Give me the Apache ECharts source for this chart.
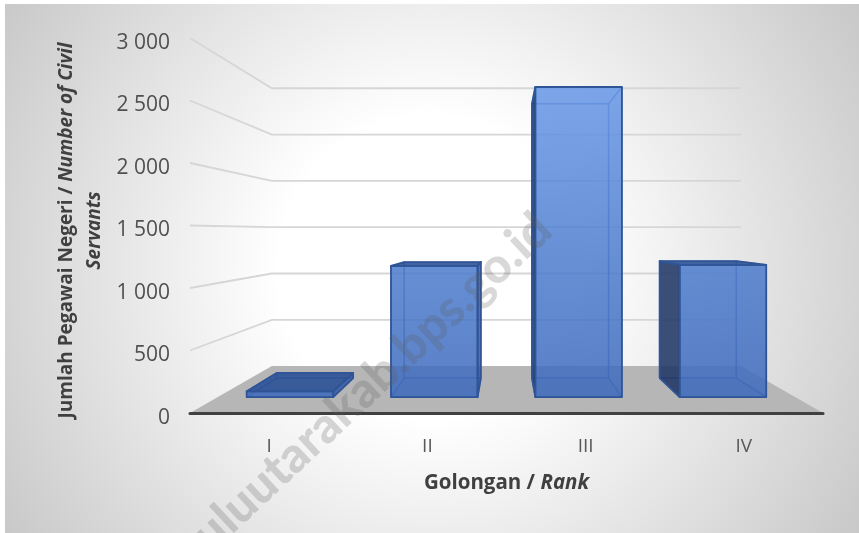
<!DOCTYPE html>
<html lang="en">
<head>
    <meta charset="UTF-8">
    <title>Jumlah Pegawai Negeri</title>
    <script type="text/javascript" src="https://cdn.jsdelivr.net/npm/echarts@6/dist/echarts.min.js"></script>
    <style>
        html, body { margin: 0; padding: 0; background: #fff; }
        #main { width: 859px; height: 533px; }
    </style>
</head>
<body>
<div id="main"></div>
<script type="text/javascript">
    var categories = ['I', 'II', 'III', 'IV'];
    var civilServants = [50, 1150, 2720, 1160];
    var yTicks = [0, 500, 1000, 1500, 2000, 2500, 3000];
    var yTitle = '{b|Jumlah Pegawai Negeri / }{i|Number of Civil}\n{i|Servants}';
    var xTitle = '{b|Golongan / }{i|Rank}';
    var watermark = 'bengkuluutarakab.bps.go.id';

    // 3d look: everything is pulled towards a vanishing point, 1 = front plane of the axis
    var vpX = 506, vpY = 232;
    var wallScale = 0.741, barFrontScale = 0.912, barBackScale = 0.807;
    var barWidthShare = 0.6;

    function project(p, s) {
        return [vpX + (p[0] - vpX) * s, vpY + (p[1] - vpY) * s];
    }
    function poly(points, fill, stroke, lineWidth) {
        return {
            type: 'polygon',
            shape: {points: points},
            style: {fill: fill, stroke: stroke || null, lineWidth: lineWidth || 0, lineJoin: 'round'}
        };
    }

    // floor and gridlines of the walls
    function renderWall(params, api) {
        var rect = params.coordSys;
        var y = api.coord([0, api.value(0)])[1];
        var children = [];
        var left = [rect.x, y], right = [rect.x + rect.width, y];
        var backLeft = project(left, wallScale), backRight = project(right, wallScale);
        if (api.value(0) === 0) {
            children.push(poly([left, right, backRight, backLeft], '#b6b6b6'));
        } else {
            children.push({
                type: 'polyline',
                shape: {points: [left, backLeft, backRight]},
                style: {fill: null, stroke: '#d6d6d6', lineWidth: 1.8}
            });
        }
        return {type: 'group', children: children};
    }

    function renderBar(params, api) {
        var x = api.coord([api.value(0), 0])[0];
        var base = api.coord([api.value(0), 0])[1];
        var top = api.coord([api.value(0), api.value(1)])[1];
        var w = api.size([1, 0])[0] * barWidthShare;
        var l = x - w / 2, r = x + w / 2;

        var fTL = project([l, top], barFrontScale), fTR = project([r, top], barFrontScale);
        var fBL = project([l, base], barFrontScale), fBR = project([r, base], barFrontScale);
        var bTL = project([l, top], barBackScale), bTR = project([r, top], barBackScale);
        var bBL = project([l, base], barBackScale), bBR = project([r, base], barBackScale);

        var yMax = api.coord([0, 3000])[1];
        var frontFill = new echarts.graphic.LinearGradient(0, yMax, 0, base, [
            {offset: 0, color: 'rgba(112,160,240,0.84)'},
            {offset: 0.6, color: 'rgba(76,124,205,0.84)'},
            {offset: 1, color: 'rgba(60,104,186,0.84)'}
        ], true);
        var edge = '#2f5597';
        var inner = 'rgba(47,85,151,0.45)';
        var dark = 'rgba(30,52,98,0.85)';
        var glass = 'rgba(70,120,210,0.10)';

        var children = [];
        children.push(poly([bTL, bTR, bBR, bBL], glass, inner, 1.5));
        children.push(poly([bBL, bBR, fBR, fBL], 'rgba(60,105,190,0.18)', inner, 1.5));

        var topVisible = fTL[1] > bTL[1];
        var leftVisible = bTL[0] < fTL[0];
        var rightVisible = bTR[0] > fTR[0];

        if (!leftVisible) { children.push(poly([bTL, fTL, fBL, bBL], glass, inner, 1.5)); }
        if (!rightVisible) { children.push(poly([fTR, bTR, bBR, fBR], glass, inner, 1.5)); }
        if (!topVisible) { children.push(poly([fTL, fTR, bTR, bTL], glass, inner, 1.5)); }

        children.push(poly([fTL, fTR, fBR, fBL], frontFill, edge, 1.8));

        if (leftVisible) { children.push(poly([bTL, fTL, fBL, bBL], dark, edge, 1.8)); }
        if (rightVisible) { children.push(poly([fTR, bTR, bBR, fBR], 'rgba(47,85,160,0.8)', edge, 1.8)); }
        if (topVisible) { children.push(poly([fTL, fTR, bTR, bTL], 'rgba(42,80,150,0.88)', edge, 1.8)); }

        return {type: 'group', children: children};
    }

    var myChart = echarts.init(document.getElementById('main'));

    var option = {
        animation: false,
        grid: {left: 190, right: 36, top: 38, bottom: 120},
        graphic: [
            {
                type: 'rect',
                z: -10,
                shape: {x: 5, y: 4, width: 854, height: 529},
                style: {
                    fill: new echarts.graphic.RadialGradient(430, 268, 505, [
                        {offset: 0, color: '#ffffff'},
                        {offset: 0.3, color: '#ffffff'},
                        {offset: 1, color: '#c8c8c8'}
                    ], true)
                }
            },
            {
                type: 'text',
                z: 100,
                x: 544,
                y: 222,
                rotation: 43 * Math.PI / 180,
                style: {
                    text: watermark,
                    textAlign: 'right',
                    textVerticalAlign: 'middle',
                    fontFamily: 'Lato',
                    fontWeight: 900,
                    fontSize: 49,
                    fill: 'rgba(90,90,90,0.24)'
                }
            }
        ],
        xAxis: {
            type: 'category',
            data: categories,
            name: xTitle,
            nameLocation: 'middle',
            nameGap: 60,
            nameMoveOverlap: false,
            nameTextStyle: {
                rich: {
                    b: {fontFamily: 'Open Sans', fontSize: 20.5, fontWeight: 'bold', color: '#404040'},
                    i: {fontFamily: 'Open Sans', fontSize: 20.5, fontWeight: 'bold', fontStyle: 'italic', color: '#404040'}
                }
            },
            axisLine: {show: true, lineStyle: {color: '#404040', width: 3}},
            axisTick: {show: false},
            axisLabel: {margin: 24, fontFamily: 'Open Sans', fontSize: 19, color: '#595959'},
            z: 5
        },
        yAxis: {
            type: 'value',
            min: 0,
            max: 3000,
            interval: 500,
            name: yTitle,
            nameLocation: 'middle',
            nameRotate: 90,
            nameGap: 81,
            nameMoveOverlap: false,
            nameTextStyle: {
                padding: [0, 10, 0, 0],
                rich: {
                    b: {fontFamily: 'Open Sans', fontSize: 19, fontWeight: 'bold', color: '#404040', lineHeight: 28},
                    i: {fontFamily: 'Open Sans', fontSize: 19, fontWeight: 'bold', fontStyle: 'italic', color: '#404040', lineHeight: 28}
                }
            },
            axisLine: {show: false},
            axisTick: {show: false},
            splitLine: {show: false},
            axisLabel: {
                margin: 20,
                fontFamily: 'Open Sans',
                fontSize: 21,
                color: '#505050',
                verticalAlign: 'top',
                lineHeight: 10,
                formatter: function (v) {
                    return String(v).replace(/\B(?=(\d{3})+$)/g, ' ');
                }
            }
        },
        series: [
            {
                name: 'wall',
                type: 'custom',
                renderItem: renderWall,
                clip: false,
                silent: true,
                encode: {y: 0},
                data: yTicks,
                z: 1
            },
            {
                name: 'Jumlah Pegawai Negeri',
                type: 'custom',
                renderItem: renderBar,
                clip: false,
                encode: {x: 0, y: 1},
                data: civilServants.map(function (v, i) { return [i, v]; }),
                z: 3
            }
        ]
    };
    myChart.setOption(option);
</script>
</body>
</html>
